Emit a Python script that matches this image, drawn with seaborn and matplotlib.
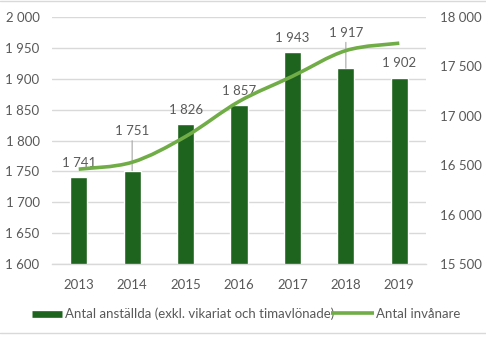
import matplotlib
matplotlib.use("Agg")
import matplotlib.pyplot as plt
from matplotlib.lines import Line2D
from matplotlib.patches import PathPatch
from matplotlib.path import Path
from matplotlib.ticker import FuncFormatter, MultipleLocator
import numpy as np
import pandas as pd
import seaborn as sns

years = ["2013", "2014", "2015", "2016", "2017", "2018", "2019"]
employees = [1741, 1751, 1826, 1857, 1943, 1917, 1902]
residents = [16460, 16530, 16790, 17145, 17400, 17660, 17735]

bar_label = "Antal anställda (exkl. vikariat och timavlönade)"
line_label = "Antal invånare"

BAR_COLOR = "#1E641E"
LINE_COLOR = "#70AD47"
TEXT_COLOR = "#595959"
GRID_COLOR = "#D9D9D9"

sns.set_theme(style="white")
plt.rcParams["font.family"] = ["Lato", "DejaVu Sans"]
FS = 9.5

df = pd.DataFrame({"year": years, "employees": employees,
                   "residents": residents, "pos": np.arange(len(years))})

fig = plt.figure(figsize=(4.86, 3.37), dpi=100)
ax = fig.add_axes([52 / 486, 1 - 264 / 337, (426 - 52) / 486, (264 - 17) / 337])

sns.barplot(data=df, x="year", y="employees", color=BAR_COLOR, width=0.32,
            saturation=1, ax=ax, zorder=2)
ax.set_ylim(1600, 2000)
ax.yaxis.set_major_locator(MultipleLocator(50))
ax.grid(axis="y", color=GRID_COLOR, linewidth=1.0, zorder=0)
ax.set_axisbelow(True)


def thousands(v, _=None):
    return f"{int(round(v)):,}".replace(",", " ")


ax.yaxis.set_major_formatter(FuncFormatter(thousands))
ax.set_xlabel("")
ax.set_ylabel("")
ax.tick_params(axis="both", length=0, labelsize=FS, labelcolor=TEXT_COLOR)
ax.tick_params(axis="x", pad=11)
ax.tick_params(axis="y", pad=9)
for s in ["top", "right", "left"]:
    ax.spines[s].set_visible(False)
ax.spines["bottom"].set_color(GRID_COLOR)
ax.spines["bottom"].set_linewidth(1.0)

ax2 = ax.twinx()
sns.lineplot(data=df, x="pos", y="residents", color=LINE_COLOR, linewidth=2.6,
             ax=ax2, zorder=3)
ax2.set_ylim(15500, 18000)
ax2.yaxis.set_major_locator(MultipleLocator(500))
ax2.yaxis.set_major_formatter(FuncFormatter(thousands))
ax2.set_ylabel("")
ax2.set_xlabel("")
ax2.tick_params(axis="y", length=0, labelsize=FS, labelcolor=TEXT_COLOR, pad=10)
for s in ["top", "right", "left", "bottom"]:
    ax2.spines[s].set_visible(False)
ax2.grid(False)

# render the residents line as a smoothed curve (Catmull-Rom -> cubic Bezier)
line = ax2.lines[0]
xs = np.asarray(line.get_xdata(), dtype=float)
ys = np.asarray(line.get_ydata(), dtype=float)
ext_x = np.concatenate([[xs[0]], xs, [xs[-1]]])
ext_y = np.concatenate([[ys[0]], ys, [ys[-1]]])
verts = [(xs[0], ys[0])]
codes = [Path.MOVETO]
k = 1 / 6
for i in range(1, len(ext_x) - 2):
    p0 = np.array([ext_x[i - 1], ext_y[i - 1]])
    p1 = np.array([ext_x[i], ext_y[i]])
    p2 = np.array([ext_x[i + 1], ext_y[i + 1]])
    p3 = np.array([ext_x[i + 2], ext_y[i + 2]])
    c1 = p1 + (p2 - p0) * k
    c2 = p2 - (p3 - p1) * k
    verts += [tuple(c1), tuple(c2), tuple(p2)]
    codes += [Path.CURVE4] * 3
line.set_visible(False)
ax2.add_patch(PathPatch(Path(verts, codes), facecolor="none", edgecolor=LINE_COLOR,
                        linewidth=2.6, capstyle="butt", zorder=3))

# value labels above the bars; two of them sit higher with a leader line
raised = {1: 24, 5: 21}
for i, v in enumerate(employees):
    off = raised.get(i, 6)
    kw = dict(xy=(i, v), xytext=(0, off), textcoords="offset points",
              ha="center", va="bottom", fontsize=FS, color=TEXT_COLOR, zorder=5)
    if i in raised:
        kw["arrowprops"] = dict(arrowstyle="-", color="#A6A6A6", lw=0.8,
                                shrinkA=0, shrinkB=0)
    ax.annotate(thousands(v), **kw)

ax.set_xlim(-0.5, len(years) - 0.5)
ax2.set_xlim(-0.5, len(years) - 0.5)

# legend entries placed along the bottom edge
h1 = Line2D([], [], color=BAR_COLOR, linewidth=4.8, solid_capstyle="butt")
h2 = Line2D([], [], color=LINE_COLOR, linewidth=2.6, solid_capstyle="butt")
px = FS * 100 / 72
fig.legend([h1], [bar_label], loc="center left", bbox_to_anchor=(32 / 486, 1 - 314 / 337),
           frameon=False, fontsize=FS, labelcolor=TEXT_COLOR, borderpad=0,
           borderaxespad=0, handlelength=30 / px, handletextpad=3 / px)
fig.legend([h2], [line_label], loc="center left", bbox_to_anchor=(331 / 486, 1 - 314 / 337),
           frameon=False, fontsize=FS, labelcolor=TEXT_COLOR, borderpad=0,
           borderaxespad=0, handlelength=43 / px, handletextpad=2 / px)

# thin chart frame lines at the top and bottom edges
fig.add_artist(Line2D([0, 1], [1 - 1 / 337, 1 - 1 / 337], transform=fig.transFigure,
                      color=GRID_COLOR, linewidth=1.0))
fig.add_artist(Line2D([0, 1], [1 - 333 / 337, 1 - 333 / 337], transform=fig.transFigure,
                      color=GRID_COLOR, linewidth=1.0))

fig.savefig("out.png", dpi=100)
